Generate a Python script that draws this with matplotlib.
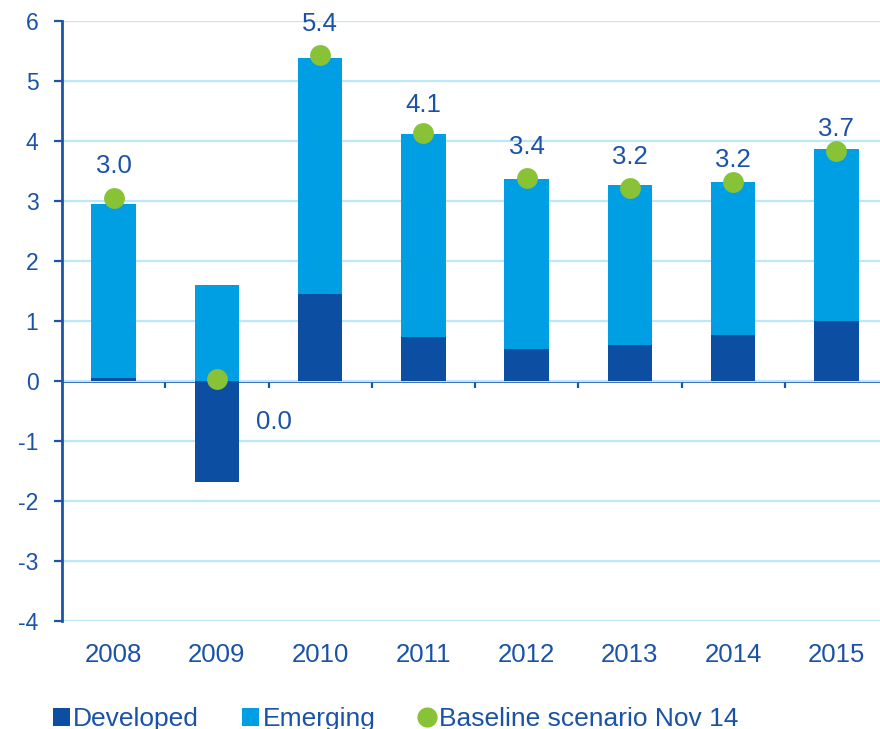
import matplotlib

matplotlib.use("Agg")
import matplotlib.pyplot as plt
import numpy as np
from matplotlib.lines import Line2D
from matplotlib.patches import Patch

years = ["2008", "2009", "2010", "2011", "2012", "2013", "2014", "2015"]
developed = [0.05, -1.68, 1.45, 0.74, 0.54, 0.60, 0.77, 1.00]
emerging = [2.90, 1.60, 3.93, 3.38, 2.82, 2.66, 2.55, 2.86]
baseline = [3.05, 0.03, 5.43, 4.14, 3.38, 3.21, 3.31, 3.84]
baseline_labels = ["3.0", "0.0", "5.4", "4.1", "3.4", "3.2", "3.2", "3.7"]

# label offsets from the dot, in pixels (dx, dy)
_LABEL_OFFSETS = [(0, 32), (57, -43), (0, 31), (0, 28), (0, 31), (0, 31), (0, 22), (0, 22)]

DARK = "#0B4EA2"
LIGHT = "#009FE3"
GREEN = "#88C236"
TEXT = "#1A52A8"
AXIS = "#1A55AA"
GRID = "#BDE6F8"

plt.rcParams["font.family"] = ["Liberation Sans", "DejaVu Sans"]

fig = plt.figure(figsize=(8.8, 7.29), dpi=100)
ax = fig.add_axes([62 / 880, 108 / 729, 826 / 880, 600 / 729])

x = np.arange(len(years))
width = 0.43
emerging_bottom = np.clip(developed, 0, None)

ax.bar(x, developed, width=width, color=DARK, zorder=3)
ax.bar(x, emerging, width=width, bottom=emerging_bottom, color=LIGHT, zorder=3)
ax.scatter(x, baseline, s=225, color=GREEN, zorder=5, linewidths=0)

for xi, yi, label, (dx, dy) in zip(x, baseline, baseline_labels, _LABEL_OFFSETS):
    ax.annotate(
        label,
        (xi, yi),
        xytext=(dx * 0.72, dy * 0.72),
        textcoords="offset points",
        ha="center",
        va="center",
        fontsize=18.5,
        color=TEXT,
        zorder=6,
    )

ax.set_xlim(-0.5, len(years) - 0.5)
ax.set_ylim(-4, 6)
ax.set_yticks(range(-4, 7))
ax.set_yticklabels([str(v) for v in range(-4, 7)])
ax.grid(axis="y", color=GRID, linewidth=1.6, zorder=0)
ax.set_axisbelow(True)

for side in ("top", "right", "bottom"):
    ax.spines[side].set_visible(False)
ax.spines["left"].set_color(AXIS)
ax.spines["left"].set_linewidth(2)

ax.tick_params(axis="y", direction="out", length=6, width=1.6, color=AXIS,
               labelcolor=TEXT, labelsize=16.5, pad=11)
ax.set_xticks(x)
ax.set_xticklabels(years)
ax.tick_params(axis="x", length=0, labelcolor=TEXT, labelsize=18.5, pad=16)

# axis line at zero with ticks between categories
zero_axis = ax.secondary_xaxis(0.4)
zero_axis.spines["bottom"].set_color(AXIS)
zero_axis.spines["bottom"].set_linewidth(2)
zero_axis.set_xticks(np.arange(0.5, len(years), 1.0))
zero_axis.set_xticklabels([])
zero_axis.tick_params(axis="x", direction="out", length=5, width=1.6, color=AXIS)

handles = [
    Patch(facecolor=DARK, edgecolor="none"),
    Patch(facecolor=LIGHT, edgecolor="none"),
    Line2D([], [], marker="o", linestyle="none", markersize=14.5,
           markerfacecolor=GREEN, markeredgewidth=0),
]
fig.legend(
    handles,
    ["Developed", "Emerging", "Baseline scenario Nov 14"],
    loc="center left",
    bbox_to_anchor=(53 / 880, 1 - 719 / 729),
    ncol=3,
    frameon=False,
    fontsize=19,
    labelcolor=TEXT,
    handlelength=0.65,
    handleheight=0.65,
    handletextpad=0.12,
    columnspacing=1.63,
    borderpad=0,
    borderaxespad=0,
)

fig.savefig("out.png", dpi=100)
